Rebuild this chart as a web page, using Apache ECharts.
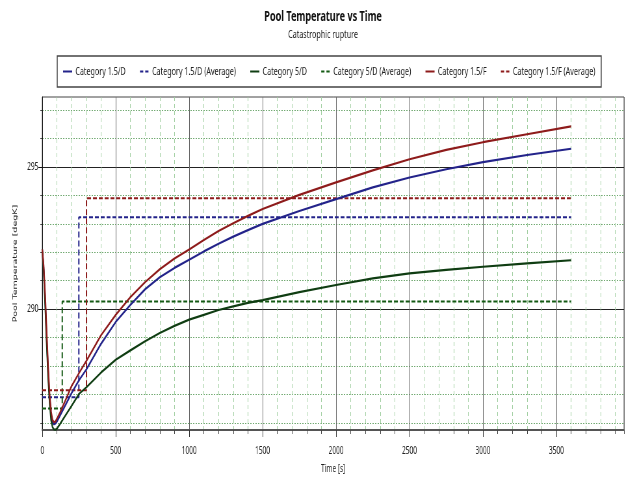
<!DOCTYPE html>
<html>
<head>
<meta charset="utf-8">
<script src="https://cdn.jsdelivr.net/npm/echarts@6/dist/echarts.min.js"></script>
<style>
  html, body { margin: 0; padding: 0; background: #ffffff; overflow: hidden; }
  #frame { width: 626px; height: 479px; overflow: hidden; }
  /* the chart is laid out wide and squeezed horizontally into the frame */
  #chart { width: 963px; height: 479px; transform: scaleX(0.65); transform-origin: 0 0; }
</style>
</head>
<body>
<div id="frame"><div id="chart"></div></div>
<script>
// Sample times (s) shared by the three temperature curves
const times = [0, 10, 20, 30, 40, 50, 60, 70, 80, 90, 100, 120, 150, 200, 250, 300,
               400, 500, 600, 700, 800, 900, 1000, 1100, 1200, 1300, 1400, 1500,
               1750, 2000, 2250, 2500, 2750, 3000, 3300, 3600];

// Pool temperature (degK) per weather category
const cat15D = [292.1, 291.4, 290.3, 289.0, 287.8, 286.9, 286.3, 286.0, 285.95, 285.98, 286.05, 286.25, 286.55, 287.05, 287.5, 287.88,
                288.78, 289.55, 290.15, 290.7, 291.12, 291.45, 291.74, 292.03, 292.3, 292.55, 292.78, 293.0,
                293.45, 293.87, 294.28, 294.63, 294.92, 295.17, 295.42, 295.64];
const cat5D  = [292.1, 291.3, 290.1, 288.8, 287.6, 286.7, 286.1, 285.85, 285.77, 285.76, 285.8, 285.95, 286.2, 286.6, 287.02, 287.25,
                287.77, 288.22, 288.55, 288.87, 289.16, 289.41, 289.63, 289.8, 289.97, 290.1, 290.22, 290.32,
                290.6, 290.85, 291.08, 291.26, 291.38, 291.49, 291.61, 291.72];
const cat15F = [292.1, 291.5, 290.5, 289.2, 288.0, 287.0, 286.4, 286.1, 286.02, 286.05, 286.15, 286.35, 286.7, 287.3, 287.75, 288.18,
                289.08, 289.8, 290.42, 290.95, 291.4, 291.78, 292.1, 292.43, 292.75, 293.02, 293.28, 293.52,
                294.02, 294.46, 294.88, 295.27, 295.6, 295.87, 296.15, 296.43];

// Averages: [time, value] corner points of each step
const avg15D = [[0, 286.90], [249, 286.90], [249, 293.23], [3600, 293.23]];
const avg5D  = [[0, 286.51], [136, 286.51], [136, 290.27], [3600, 290.27]];
const avg15F = [[0, 287.15], [301, 287.15], [301, 293.90], [3600, 293.90]];

// Axis ranges and tick values
const xRange = [0, 3960];
const yRange = [285.75, 297.46];
const xMajor = 500, xMinor = 100;
const yMajorTicks = [290, 295];
const yMinorTicks = [286, 287, 288, 289, 290, 291, 292, 293, 294, 295, 296, 297];

const seriesNames = ['Category 1.5/D', 'Category 1.5/D (Average)', 'Category 5/D',
                     'Category 5/D (Average)', 'Category 1.5/F', 'Category 1.5/F (Average)'];

const FONT = '"Noto Sans", "Liberation Sans", sans-serif';
const BLUE = '#23238a', GREEN = '#0f3d12', RED = '#8e1b1b';
const GREEN_DASH = '#145a14';
const SOLID_ICON = 'rect';
const DASH_ICON = 'path://M0,0h5v2h-5z M8,0h5v2h-5z';

const pair = (vals) => times.map((t, i) => [t, vals[i]]);

const chart = echarts.init(document.getElementById('chart'), null, { renderer: 'canvas' });

function curve(name, data, color) {
  return {
    name, type: 'line', data, xAxisIndex: 1, yAxisIndex: 1,
    symbol: 'none', smooth: false,
    lineStyle: { color, width: 2.2 }, itemStyle: { color }, z: 5
  };
}
function step(name, data, color) {
  return {
    name, type: 'line', data, xAxisIndex: 1, yAxisIndex: 1,
    symbol: 'none',
    lineStyle: { color, width: 2, type: [6, 3] }, itemStyle: { color }, z: 4
  };
}

chart.setOption({
  animation: false,
  backgroundColor: '#ffffff',
  title: {
    text: 'Pool Temperature vs Time',
    subtext: 'Catastrophic rupture',
    left: 492, textAlign: 'center', top: 5, itemGap: 5,
    textStyle: { fontFamily: FONT, fontSize: 14, fontWeight: 'bold', color: '#111' },
    subtextStyle: { fontFamily: FONT, fontSize: 11, color: '#222' }
  },
  legend: {
    data: seriesNames.map((name, i) => ({ name, icon: i % 2 ? DASH_ICON : SOLID_ICON })),
    left: 88, top: 56, width: 900,
    padding: [10, 9, 10, 9],
    itemGap: 22, itemWidth: 14, itemHeight: 2,
    borderColor: '#444', borderWidth: 1.5,
    textStyle: { fontFamily: FONT, fontSize: 11, color: '#222' }
  },
  grid: {
    left: 65, top: 97, right: 3, bottom: 46,
    show: true, borderColor: '#444', borderWidth: 1
  },
  xAxis: [
    {
      // minor vertical grid
      type: 'value', position: 'bottom', min: xRange[0], max: xRange[1], interval: xMinor,
      axisLine: { show: false },
      axisTick: { show: true, length: 4, lineStyle: { color: '#444' } },
      axisLabel: { show: false },
      splitLine: { show: true, lineStyle: { color: '#a2cfa2', type: [4, 3], width: 1 } }
    },
    {
      type: 'value', position: 'bottom', min: xRange[0], max: xRange[1], interval: xMajor,
      name: 'Time [s]', nameLocation: 'middle', nameGap: 34,
      nameTextStyle: { fontFamily: FONT, fontSize: 10, color: '#222' },
      axisLine: { show: true, lineStyle: { color: '#555', width: 2 } },
      axisTick: { show: true, length: 7, lineStyle: { color: '#333' } },
      axisLabel: { fontFamily: FONT, fontSize: 10, color: '#222', margin: 16, showMaxLabel: false,
                   formatter: (v) => String(v) },
      splitLine: { show: true, lineStyle: { color: '#666', width: 1 } }
    }
  ],
  yAxis: [
    {
      // minor horizontal grid
      type: 'value', position: 'left', min: yRange[0], max: yRange[1],
      axisLine: { show: false },
      axisTick: { show: true, length: 3, customValues: yMinorTicks, lineStyle: { color: '#444' } },
      axisLabel: { show: false },
      splitLine: { show: true, lineStyle: { color: '#72aa72', type: [2, 2], width: 1 } }
    },
    {
      type: 'value', position: 'left', min: yRange[0], max: yRange[1],
      name: 'Pool Temperature [degK]', nameLocation: 'middle', nameGap: 36,
      nameTextStyle: { fontFamily: '"DejaVu Sans", sans-serif', fontSize: 9.5, color: '#222' },
      axisLine: { show: true, lineStyle: { color: '#111', width: 1 } },
      axisTick: { show: true, length: 6, customValues: yMajorTicks, lineStyle: { color: '#111' } },
      axisLabel: { fontFamily: FONT, fontSize: 10, color: '#222', margin: 6, customValues: yMajorTicks },
      splitLine: { show: true, lineStyle: { color: '#222', width: 1 } }
    }
  ],
  series: [
    curve(seriesNames[0], pair(cat15D), BLUE),
    step(seriesNames[1], avg15D, BLUE),
    curve(seriesNames[2], pair(cat5D), GREEN),
    step(seriesNames[3], avg5D, GREEN_DASH),
    curve(seriesNames[4], pair(cat15F), RED),
    step(seriesNames[5], avg15F, RED)
  ]
});
</script>
</body>
</html>
